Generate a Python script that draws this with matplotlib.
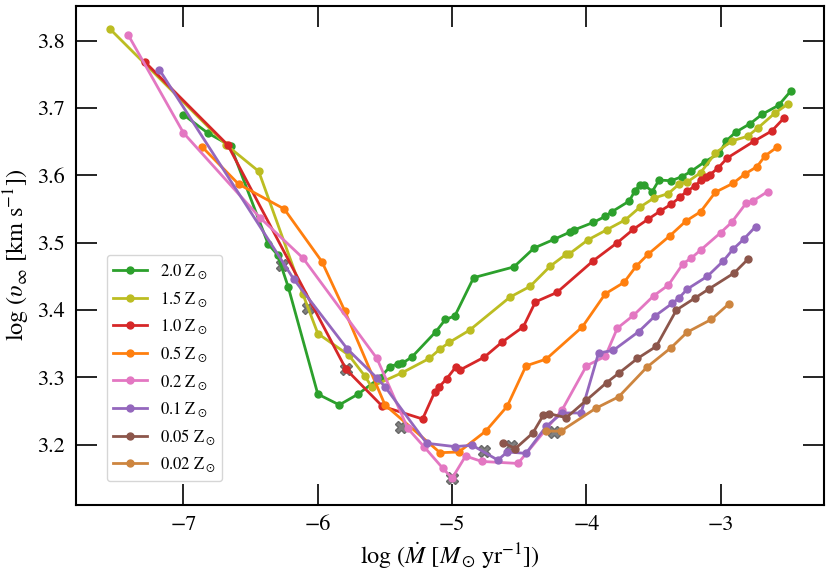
import matplotlib
matplotlib.use('Agg')
import matplotlib.pyplot as plt

plt.rcParams['font.family'] = ['STIXGeneral', 'DejaVu Serif']
plt.rcParams['mathtext.fontset'] = 'stix'

# log Mdot vs log v_inf for each metallicity
labels = [r'2.0 $\mathrm{Z}_\odot$', r'1.5 $\mathrm{Z}_\odot$', r'1.0 $\mathrm{Z}_\odot$',
          r'0.5 $\mathrm{Z}_\odot$', r'0.2 $\mathrm{Z}_\odot$', r'0.1 $\mathrm{Z}_\odot$',
          r'0.05 $\mathrm{Z}_\odot$', r'0.02 $\mathrm{Z}_\odot$']
colors = ['#2ca02c', '#bcbd22', '#d62728', '#ff7f0e', '#e377c2', '#9467bd', '#8c564b', '#cd853f']

green_x = [-7.00, -6.82, -6.65, -6.37, -6.30, -6.22, -6.00, -5.84, -5.70, -5.54, -5.46, -5.40, -5.37,
           -5.30, -5.12, -5.05, -4.98, -4.84, -4.54, -4.39, -4.24, -4.12, -4.09, -3.95, -3.86, -3.81,
           -3.68, -3.64, -3.60, -3.57, -3.51, -3.46, -3.37, -3.29, -3.22, -3.12, -3.01, -2.96, -2.89,
           -2.78, -2.69, -2.57, -2.48]
green_y = [3.690, 3.663, 3.644, 3.498, 3.482, 3.434, 3.275, 3.259, 3.275, 3.299, 3.316, 3.320, 3.321,
           3.330, 3.368, 3.386, 3.391, 3.448, 3.464, 3.492, 3.505, 3.516, 3.519, 3.530, 3.539, 3.546,
           3.562, 3.577, 3.586, 3.586, 3.576, 3.593, 3.592, 3.598, 3.606, 3.620, 3.633, 3.651, 3.664,
           3.677, 3.691, 3.704, 3.725]

olive_x = [-7.55, -6.68, -6.44, -6.11, -6.00, -5.77, -5.65, -5.60, -5.37, -5.17, -5.09, -5.02, -4.87,
           -4.57, -4.42, -4.27, -4.15, -4.13, -3.99, -3.85, -3.71, -3.60, -3.50, -3.39, -3.31, -3.25,
           -3.15, -3.04, -2.92, -2.80, -2.72, -2.60, -2.50]
olive_y = [3.818, 3.645, 3.606, 3.423, 3.365, 3.333, 3.302, 3.286, 3.307, 3.328, 3.342, 3.352, 3.370,
           3.419, 3.435, 3.465, 3.483, 3.483, 3.504, 3.519, 3.534, 3.553, 3.566, 3.573, 3.587, 3.590,
           3.604, 3.633, 3.651, 3.658, 3.671, 3.692, 3.706]

red_x = [-7.29, -6.67, -5.79, -5.52, -5.22, -5.13, -5.10, -5.04, -4.97, -4.94, -4.76, -4.63, -4.47,
         -4.38, -4.22, -3.95, -3.77, -3.65, -3.54, -3.45, -3.37, -3.30, -3.25, -3.19, -3.15, -3.11,
         -3.08, -3.02, -2.95, -2.75, -2.62, -2.53]
red_y = [3.769, 3.645, 3.312, 3.257, 3.238, 3.278, 3.285, 3.298, 3.316, 3.311, 3.330, 3.352, 3.375,
         3.412, 3.426, 3.473, 3.500, 3.520, 3.535, 3.547, 3.557, 3.568, 3.577, 3.584, 3.593, 3.598,
         3.601, 3.611, 3.626, 3.651, 3.666, 3.685]

orange_x = [-6.86, -6.59, -6.25, -5.97, -5.80, -5.50, -5.09, -4.95, -4.75, -4.59, -4.45, -4.30, -4.03,
            -3.86, -3.72, -3.63, -3.54, -3.38, -3.26, -3.15, -3.04, -2.91, -2.82, -2.73, -2.67, -2.58]
orange_y = [3.642, 3.587, 3.550, 3.472, 3.399, 3.259, 3.188, 3.189, 3.220, 3.257, 3.317, 3.327, 3.375,
            3.424, 3.441, 3.465, 3.483, 3.510, 3.532, 3.546, 3.575, 3.588, 3.602, 3.613, 3.629, 3.642]

pink_x = [-7.41, -7.00, -6.43, -6.11, -5.56, -5.33, -5.21, -5.07, -5.00, -4.90, -4.78, -4.51, -4.18,
          -4.00, -3.86, -3.77, -3.65, -3.50, -3.39, -3.28, -3.22, -3.15, -3.00, -2.92, -2.81, -2.76,
          -2.65]
pink_y = [3.808, 3.663, 3.537, 3.477, 3.328, 3.224, 3.197, 3.165, 3.150, 3.183, 3.175, 3.172, 3.252,
          3.317, 3.331, 3.373, 3.392, 3.421, 3.437, 3.469, 3.477, 3.489, 3.515, 3.530, 3.559, 3.562,
          3.576]

purple_x = [-7.18, -6.18, -5.78, -5.56, -5.50, -5.19, -4.98, -4.85, -4.66, -4.59, -4.45, -4.30, -4.18,
            -4.04, -3.91, -3.80, -3.61, -3.49, -3.36, -3.31, -3.25, -3.10, -2.98, -2.91, -2.83, -2.74]
purple_y = [3.757, 3.446, 3.342, 3.299, 3.286, 3.202, 3.197, 3.199, 3.177, 3.189, 3.187, 3.227, 3.247,
            3.247, 3.336, 3.340, 3.368, 3.391, 3.410, 3.418, 3.431, 3.450, 3.473, 3.490, 3.505, 3.524]

brown_x = [-4.62, -4.53, -4.40, -4.32, -4.28, -4.15, -4.00, -3.85, -3.76, -3.62, -3.48, -3.33, -3.19,
           -3.09, -2.90, -2.80]
brown_y = [3.203, 3.194, 3.217, 3.244, 3.246, 3.240, 3.266, 3.292, 3.306, 3.328, 3.346, 3.400, 3.418,
           3.431, 3.455, 3.475]

peru_x = [-4.30, -4.19, -3.93, -3.76, -3.55, -3.37, -3.25, -3.07, -2.94]
peru_y = [3.220, 3.220, 3.254, 3.271, 3.315, 3.344, 3.367, 3.386, 3.409]

# grey crosses
cross_x = [-6.27, -6.07, -5.79, -5.38, -5.00, -4.76, -4.56, -4.24]
cross_y = [3.467, 3.403, 3.313, 3.226, 3.150, 3.191, 3.198, 3.219]

all_x = [green_x, olive_x, red_x, orange_x, pink_x, purple_x, brown_x, peru_x]
all_y = [green_y, olive_y, red_y, orange_y, pink_y, purple_y, brown_y, peru_y]

fig = plt.figure(figsize=(8.31, 5.72), dpi=100)
ax = fig.add_axes([0.0915, 0.118, 0.9, 0.872])

ax.plot(cross_x, cross_y, ls='none', marker='X', ms=9, color='gray',
        markeredgecolor='dimgray', zorder=1)

for x, y, c, lab in zip(all_x, all_y, colors, labels):
    ax.plot(x, y, '-o', color=c, lw=2, ms=5, label=lab, zorder=2)

ax.set_xlim(-7.80, -2.232)
ax.set_ylim(3.111, 3.852)
ax.set_xticks([-7, -6, -5, -4, -3])
ax.set_yticks([3.2, 3.3, 3.4, 3.5, 3.6, 3.7, 3.8])

ax.tick_params(direction='in', length=15, width=1.2, top=True, right=True, labelsize=16, pad=8)
for s in ax.spines.values():
    s.set_linewidth(1.5)

ax.set_xlabel(r'$\log\,(\dot{M}\ [M_\odot\,\mathrm{yr}^{-1}])$', fontsize=17.5)
ax.set_ylabel(r'$\log\,(\upsilon_\infty\ [\mathrm{km\ s^{-1}}])$', fontsize=17.5)

ax.legend(loc='lower left', bbox_to_anchor=(0.041, 0.047), borderaxespad=0, fontsize=12)

fig.savefig('out.png', dpi=100)
